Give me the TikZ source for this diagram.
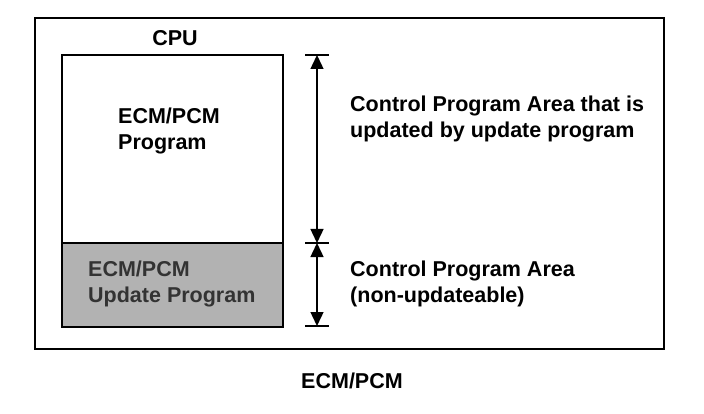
\documentclass[tikz,border=0pt]{standalone}
\usepackage{fontspec}
\setmainfont{Liberation Sans}
\usetikzlibrary{arrows.meta}
\begin{document}
\begin{tikzpicture}[x=1pt,y=-1pt,
  lbl/.style={font=\bfseries\fontsize{21.5}{26}\selectfont, inner sep=0pt, align=left},
  dim/.style={line width=1.4pt, {Triangle[width=13pt,length=14pt]}-{Triangle[width=13pt,length=14pt]}},
  tick/.style={line width=1.4pt}]
\useasboundingbox (0,0) rectangle (704,414);
\draw[line width=2.6pt] (35,18) rectangle (664,349);
\fill[gray!60] (62,243) rectangle (283,327);
\draw[line width=2pt] (62,55) rectangle (283,327);
\draw[line width=2pt] (62,243) -- (283,243);
\node[lbl] (cpu) at (175,38) {CPU};
\node[lbl, anchor=west] (prog) at (118,131) {ECM/PCM\\Program};
\node[lbl, anchor=west, text=black!80] (upd) at (88,284) {ECM/PCM\\Update Program};
\node[lbl, anchor=west] (t1) at (350,119) {Control Program Area that is\\updated by update program};
\node[lbl, anchor=west] (t2) at (350,284) {Control Program Area\\(non-updateable)};
\node[lbl] (ecm) at (352,381) {ECM/PCM};
\coordinate (a) at (317,55);
\coordinate (b) at (317,243);
\coordinate (c) at (317,326);
\draw[tick] ([xshift=-12pt]a) -- ([xshift=12pt]a);
\draw[tick] ([xshift=-12pt]b) -- ([xshift=12pt]b);
\draw[tick] ([xshift=-12pt]c) -- ([xshift=12pt]c);
\draw[dim] (a) -- (b);
\draw[dim] (b) -- (c);
\end{tikzpicture}
\end{document}
